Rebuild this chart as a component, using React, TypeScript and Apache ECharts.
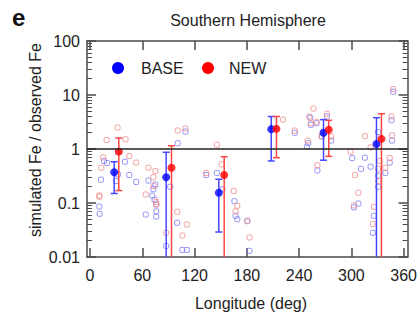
import React, { useEffect, useRef } from "react";
import * as echarts from "echarts";

// Individual station ratios [longitude, simulated/observed]
const basePoints: [number, number][] = [
  [10.6, 0.086], [11, 0.063], [12.5, 0.27], [16, 0.6], [19.4, 0.55], [29.6, 0.255], [32, 0.34], [32, 0.88],
  [40, 0.58], [45, 0.33], [53, 0.245], [64, 0.061], [67, 0.26], [71.4, 0.137], [72.6, 0.18], [74, 0.115],
  [75, 0.22], [76, 0.094], [76, 0.07], [76, 0.056], [87.4, 0.016], [92, 0.2], [100, 0.043], [100.7, 1.28],
  [106, 0.0135], [109.5, 2.1], [111, 0.0135], [133.4, 0.33], [145.6, 0.36], [152, 0.18], [165.7, 0.108],
  [167, 0.058], [169, 0.05], [180.5, 0.046], [183, 0.013], [235, 2.0], [249, 1.1], [250.5, 1.28],
  [252.8, 3.8], [253.5, 2.8], [260, 3.0], [261, 0.4], [266, 1.7], [272, 4.0], [276.7, 1.43], [301, 0.68],
  [303, 0.083], [308, 0.098], [311, 0.43], [315.5, 0.69], [322, 0.47], [324.6, 0.028], [325.7, 0.058],
  [330.7, 2.05], [330.7, 0.32], [330.7, 0.2], [339, 0.36], [344, 0.56], [346.7, 1.43], [346, 3.4], [348, 11.5],
];
const newPoints: [number, number][] = [
  [10.6, 0.138], [10.8, 0.13], [13, 0.45], [15, 0.7], [19, 1.47], [31.6, 2.5], [40.7, 1.52], [45, 0.74],
  [53, 0.56], [64, 0.144], [67, 0.45], [72.6, 0.3], [73, 0.206], [75, 0.39], [76, 0.105], [76, 0.094],
  [87.4, 0.028], [100, 0.069], [100.7, 2.2], [106, 0.025], [109.5, 2.4], [111, 0.04], [133.4, 0.36],
  [145.6, 1.2], [151, 0.52], [165, 0.167], [167, 0.07], [169, 0.089], [180.5, 0.047], [183, 0.023],
  [221.5, 3.5], [235, 2.2], [249.7, 1.43], [251.6, 4.0], [253.5, 3.0], [256.5, 5.6], [260, 3.2], [261, 0.5],
  [266, 1.75], [272, 4.5], [276.7, 1.7], [299, 0.89], [303, 0.09], [304, 0.33], [308, 0.155], [315.5, 1.73],
  [322, 1.07], [324.6, 0.041], [326, 0.085], [330.7, 0.43], [330.7, 0.255], [332.5, 0.6], [339, 0.45],
  [344, 0.68], [346, 4.0], [346.7, 1.8], [348, 12.9],
];

// Binned means [longitude, mean, lower, upper]
const baseMeans: [number, number, number, number][] = [
  [27.7, 0.37, 0.15, 0.58], [87.4, 0.3, 0.001, 0.87], [147.8, 0.155, 0.029, 0.275],
  [208, 2.33, 0.6, 4.0], [268, 2.0, 0.62, 3.5], [328.8, 1.24, 0.001, 3.8],
];
const newMeans: [number, number, number, number][] = [
  [33, 0.9, 0.17, 1.6], [93.5, 0.45, 0.001, 1.15], [154, 0.33, 0.001, 0.72],
  [214, 2.36, 0.69, 4.0], [274, 2.27, 0.73, 3.4], [334.5, 1.54, 0.001, 4.5],
];

const xTicks = [0, 60, 120, 180, 240, 300, 360];
const yTicks = [0.01, 0.1, 1, 10, 100];
const yMinorTicks = [
  0.02, 0.03, 0.04, 0.05, 0.06, 0.07, 0.08, 0.09,
  0.2, 0.3, 0.4, 0.5, 0.6, 0.7, 0.8, 0.9,
  2, 3, 4, 5, 6, 7, 8, 9,
  20, 30, 40, 50, 60, 70, 80, 90,
];

const FONT = "'Liberation Sans', Arial, Helvetica, sans-serif";
const FRAME = "#4a4a4a";

export default function App() {
  const ref = useRef<HTMLDivElement>(null);
  useEffect(() => {
    if (!ref.current) return;
    const chart = echarts.init(ref.current, undefined, { renderer: "svg" });

    const errBar = (color: string) => (params: any, api: any) => {
      const x = api.value(0);
      const lo = api.value(2);
      const hi = api.value(3);
      const top = api.coord([x, hi]);
      const bot = api.coord([x, lo]);
      const cs = params.coordSys;
      const yMax = cs.y + cs.height;
      const by = Math.min(bot[1], yMax);
      const cap = 3.5;
      const style = { stroke: color, lineWidth: 1.5 };
      const children: any[] = [
        { type: "line", shape: { x1: top[0], y1: top[1], x2: top[0], y2: by }, style },
        { type: "line", shape: { x1: top[0] - cap, y1: top[1], x2: top[0] + cap, y2: top[1] }, style },
      ];
      if (bot[1] <= yMax) {
        children.push({ type: "line", shape: { x1: bot[0] - cap, y1: bot[1], x2: bot[0] + cap, y2: bot[1] }, style });
      }
      return { type: "group", children };
    };

    const xBase = {
      type: "value" as const,
      min: -3.5,
      max: 364.5,
      splitLine: { show: false },
      axisLine: { show: true, onZero: false, lineStyle: { color: FRAME, width: 1.5 } },
    };
    const yBase = {
      type: "log" as const,
      logBase: 10,
      min: 0.01,
      max: 100,
      splitLine: { show: false },
      axisLine: { show: true, onZero: false, lineStyle: { color: FRAME, width: 1.5 } },
    };

    chart.setOption({
      animation: false,
      textStyle: { fontFamily: FONT },
      grid: { left: 87, right: 10, top: 41, bottom: 63 },
      xAxis: [
        {
          ...xBase,
          position: "bottom",
          axisTick: { show: true, inside: true, length: 9, customValues: xTicks, lineStyle: { color: FRAME, width: 1.5 } },
          axisLabel: { show: true, customValues: xTicks, fontSize: 16, color: "#222", margin: 10, fontFamily: FONT },
        },
        {
          ...xBase,
          position: "top",
          axisTick: { show: true, inside: true, length: 9, customValues: xTicks, lineStyle: { color: FRAME, width: 1.5 } },
          axisLabel: { show: false },
        },
      ],
      yAxis: [
        {
          ...yBase,
          position: "left",
          axisTick: { show: true, inside: true, length: 9, customValues: yTicks, lineStyle: { color: FRAME, width: 1.5 } },
          axisLabel: {
            show: true,
            customValues: yTicks,
            fontSize: 16,
            color: "#222",
            margin: 7,
            fontFamily: FONT,
            formatter: (v: number) => String(Number(v.toPrecision(3))),
          },
        },
        {
          ...yBase,
          position: "left",
          axisLine: { show: false, onZero: false },
          axisTick: { show: true, inside: true, length: 5, customValues: yMinorTicks, lineStyle: { color: FRAME, width: 1 } },
          axisLabel: { show: false },
        },
        {
          ...yBase,
          position: "right",
          axisTick: { show: true, inside: true, length: 9, customValues: yTicks, lineStyle: { color: FRAME, width: 1.5 } },
          axisLabel: { show: false },
        },
        {
          ...yBase,
          position: "right",
          axisLine: { show: false, onZero: false },
          axisTick: { show: true, inside: true, length: 5, customValues: yMinorTicks, lineStyle: { color: FRAME, width: 1 } },
          axisLabel: { show: false },
        },
      ],
      graphic: [
        { type: "text", left: 12, top: 5, style: { text: "e", fontSize: 24, fontWeight: "bold", fill: "#111", fontFamily: FONT } },
        { type: "text", x: 248, y: 20, style: { text: "Southern Hemisphere", fontSize: 16, fill: "#222", fontFamily: FONT, align: "center", verticalAlign: "middle" } },
        { type: "text", x: 35, y: 140, rotation: Math.PI / 2, style: { text: "simulated Fe / observed Fe", fontSize: 16, fill: "#222", fontFamily: FONT, align: "center", verticalAlign: "middle" } },
        { type: "text", x: 251, y: 303, style: { text: "Longitude (deg)", fontSize: 16, fill: "#222", fontFamily: FONT, align: "center", verticalAlign: "middle" } },
        { type: "circle", shape: { cx: 118, cy: 68, r: 6 }, style: { fill: "#0000ff" } },
        { type: "text", x: 141, y: 68, style: { text: "BASE", fontSize: 16, fill: "#222", fontFamily: FONT, align: "left", verticalAlign: "middle" } },
        { type: "circle", shape: { cx: 208, cy: 68, r: 6 }, style: { fill: "#ff0000" } },
        { type: "text", x: 229, y: 68, style: { text: "NEW", fontSize: 16, fill: "#222", fontFamily: FONT, align: "left", verticalAlign: "middle" } },
      ],
      series: [
        {
          type: "scatter",
          name: "BASE stations",
          data: basePoints,
          symbol: "roundRect",
          symbolSize: 5,
          itemStyle: { color: "rgba(0,0,0,0)", borderColor: "#7a7af2", borderWidth: 1 },
          z: 2,
        },
        {
          type: "scatter",
          name: "NEW stations",
          data: newPoints,
          symbol: "roundRect",
          symbolSize: 5,
          itemStyle: { color: "rgba(0,0,0,0)", borderColor: "#f08a8a", borderWidth: 1 },
          z: 2,
          markLine: {
            silent: true,
            symbol: "none",
            label: { show: false },
            lineStyle: { color: "#222", width: 1.5, type: "solid" },
            data: [{ yAxis: 1 }],
          },
        },
        {
          type: "custom",
          name: "BASE range",
          data: baseMeans,
          encode: { x: 0, y: 1 },
          renderItem: errBar("#4646ff"),
          z: 3,
        },
        {
          type: "custom",
          name: "NEW range",
          data: newMeans,
          encode: { x: 0, y: 1 },
          renderItem: errBar("#ff4646"),
          z: 3,
        },
        {
          type: "scatter",
          name: "BASE",
          data: baseMeans.map((d) => [d[0], d[1]]),
          symbolSize: 8,
          itemStyle: { color: "#0000ff" },
          z: 4,
        },
        {
          type: "scatter",
          name: "NEW",
          data: newMeans.map((d) => [d[0], d[1]]),
          symbolSize: 8,
          itemStyle: { color: "#ff0000" },
          z: 4,
        },
      ],
    });
    return () => chart.dispose();
  }, []);
  return <div ref={ref} style={{ position: "absolute", left: 0, top: 0, width: 420, height: 320 }} />;
}
